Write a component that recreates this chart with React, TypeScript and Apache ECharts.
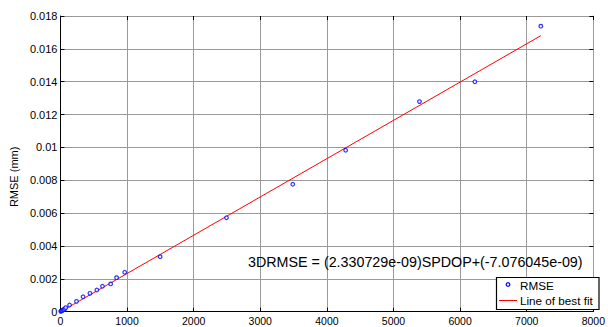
import React, { useEffect, useRef } from "react";
import * as echarts from "echarts";

const spdop = [5, 12, 20, 30, 42, 55, 68, 80, 137, 241, 340, 443, 547, 631, 754, 843, 965, 1497, 2493, 3488, 4282, 5390, 6222, 7212];
const rmse = [0.00002, 0.00004, 0.00006, 0.00008, 0.00011, 0.00014, 0.00018, 0.00025, 0.00041, 0.00063, 0.00091, 0.00112, 0.00132, 0.00155, 0.00169, 0.00207, 0.0024, 0.00335, 0.00572, 0.00776, 0.00983, 0.01279, 0.0140, 0.01738];
const fitX = [0, 7212];
const fitSlope = 2.330729e-6;
const fitIntercept = -7.076045e-6;
const xTicks = [0, 1000, 2000, 3000, 4000, 5000, 6000, 7000, 8000];
const equationText = "3DRMSE = (2.330729e-09)SPDOP+(-7.076045e-09)";
const legendNames = ["RMSE", "Line of best fit"];

export default function App() {
  const ref = useRef<HTMLDivElement>(null);
  useEffect(() => {
    if (!ref.current) return;
    const chart = echarts.init(ref.current, null, { renderer: "svg" });
    const font = "Liberation Sans, Arial, sans-serif";
    const scatterData = spdop.map((x, i) => [x, rmse[i]]);
    const lineData = fitX.map((x) => [x, fitSlope * x + fitIntercept]);
    const gridLine = { show: true, lineStyle: { color: "#9a9a9a", width: 1 } };
    chart.setOption({
      animation: false,
      backgroundColor: "#fff",
      grid: { left: 58, right: 9, top: 16, bottom: 15.3, show: false },
      xAxis: [
        {
          type: "value",
          min: xTicks[0],
          max: xTicks[xTicks.length - 1],
          interval: 1000,
          axisLine: { show: true, onZero: false, lineStyle: { color: "#000", width: 1 } },
          axisTick: { show: true, inside: true, length: 4, lineStyle: { color: "#000" } },
          axisLabel: {
            color: "#000",
            fontSize: 10.5,
            fontFamily: font,
            margin: 4,
            showMaxLabel: true,
            formatter: (v: number) => String(v),
          },
          splitLine: gridLine,
        },
        {
          type: "value",
          position: "top",
          min: xTicks[0],
          max: xTicks[xTicks.length - 1],
          interval: 1000,
          axisLine: { show: true, onZero: false, lineStyle: { color: "#9a9a9a", width: 1 } },
          axisTick: { show: true, inside: true, length: 4, lineStyle: { color: "#000" } },
          axisLabel: { show: false },
          splitLine: { show: false },
        },
      ],
      yAxis: [
        {
          type: "value",
          min: 0,
          max: 0.018,
          interval: 0.002,
          name: "RMSE (mm)",
          nameLocation: "middle",
          nameGap: 37,
          nameRotate: 90,
          nameTextStyle: { color: "#000", fontSize: 11, fontFamily: font, padding: [0, 0, 0, -26] },
          axisLine: { show: true, onZero: false, lineStyle: { color: "#000", width: 1 } },
          axisTick: { show: true, inside: true, length: 4, lineStyle: { color: "#000" } },
          axisLabel: {
            color: "#000",
            fontSize: 11,
            fontFamily: font,
            margin: 3,
            formatter: (v: number) => String(+v.toFixed(3)),
          },
          splitLine: gridLine,
        },
        {
          type: "value",
          position: "right",
          min: 0,
          max: 0.018,
          interval: 0.002,
          axisLine: { show: true, onZero: false, lineStyle: { color: "#9a9a9a", width: 1 } },
          axisTick: { show: true, inside: true, length: 4, lineStyle: { color: "#000" } },
          axisLabel: { show: false },
          splitLine: { show: false },
        },
      ],
      legend: { show: false },
      graphic: [
        {
          type: "text",
          left: 248,
          top: 255,
          z: 100,
          style: { text: equationText, fill: "#000", font: "14.3px " + font },
        },
        {
          type: "rect",
          z: 100,
          shape: { x: 496.5, y: 277.5, width: 102.5, height: 32 },
          style: { fill: "#fff", stroke: "#000", lineWidth: 1.2 },
        },
        {
          type: "circle",
          z: 101,
          shape: { cx: 508, cy: 284.5, r: 1.8 },
          style: { fill: "#fff", stroke: "#0000ff", lineWidth: 1.2 },
        },
        {
          type: "line",
          z: 101,
          shape: { x1: 499, y1: 300.5, x2: 517, y2: 300.5 },
          style: { stroke: "#ff0000", lineWidth: 1 },
        },
        {
          type: "text",
          z: 101,
          x: 520,
          y: 285,
          style: { text: legendNames[0], fill: "#000", font: "11.7px " + font, verticalAlign: "middle" },
        },
        {
          type: "text",
          z: 101,
          x: 520,
          y: 300.5,
          style: { text: legendNames[1], fill: "#000", font: "11.7px " + font, verticalAlign: "middle" },
        },
      ],
      series: [
        {
          name: legendNames[1],
          type: "line",
          data: lineData,
          symbol: "none",
          showSymbol: false,
          lineStyle: { color: "#ff0000", width: 1 },
          itemStyle: { color: "#ff0000" },
          z: 2,
        },
        {
          name: legendNames[0],
          type: "scatter",
          data: scatterData,
          symbol: "circle",
          symbolSize: 3.6,
          itemStyle: { color: "#fff", borderColor: "#0000ff", borderWidth: 1.2 },
          z: 3,
        },
      ],
    });
    return () => chart.dispose();
  }, []);
  return <div ref={ref} style={{ width: 608, height: 327, position: "absolute", left: 0, top: 0 }} />;
}
